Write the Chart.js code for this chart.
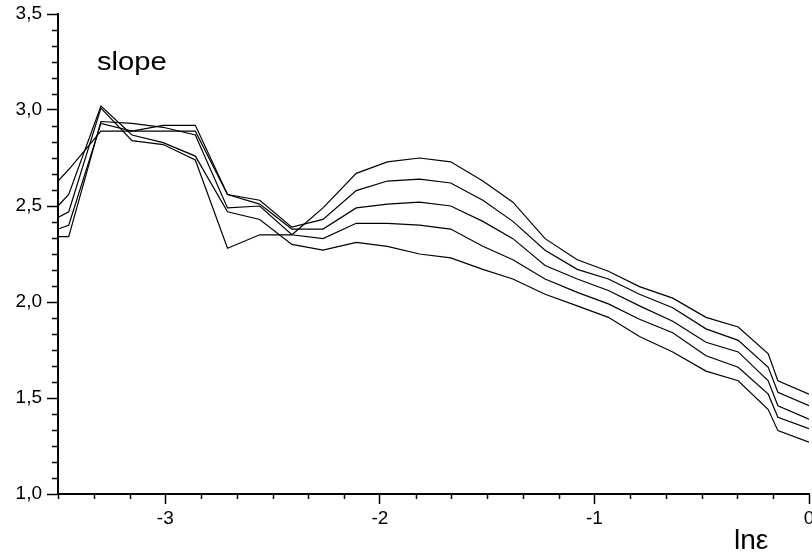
<!DOCTYPE html>
<html lang="en">
<head>
    <meta charset="utf-8">
    <title>slope vs ln eps</title>
    <script src="https://cdn.jsdelivr.net/npm/chart.js"></script>
    <style>
        body {
            margin: 0;
            background: #fff;
        }
    </style>
</head>
<body>
<canvas id="chart" width="812" height="557"></canvas>

<script>
    // x positions (ln eps) shared by all curves
    const lnEps = [-3.5, -3.45, -3.30, -3.155, -3.01, -2.86, -2.71, -2.56, -2.41, -2.265, -2.11, -1.965, -1.815,
        -1.67, -1.52, -1.38, -1.23, -1.08, -0.935, -0.79, -0.635, -0.48, -0.33, -0.19, -0.145, 0];

    // five slope curves
    const slope1 = [2.44, 2.47, 3.01, 2.84, 2.82, 2.74, 2.28, 2.35, 2.35, 2.49, 2.67, 2.73, 2.75,
        2.73, 2.63, 2.52, 2.33, 2.22, 2.16, 2.08, 2.02, 1.92, 1.87, 1.73, 1.59, 1.52];
    const slope2 = [2.38, 2.40, 2.93, 2.89, 2.92, 2.92, 2.56, 2.53, 2.39, 2.43, 2.58, 2.63, 2.64,
        2.62, 2.53, 2.42, 2.27, 2.17, 2.12, 2.04, 1.97, 1.86, 1.80, 1.66, 1.53, 1.46];
    const slope3 = [2.63, 2.69, 2.89, 2.89, 2.89, 2.89, 2.56, 2.51, 2.38, 2.38, 2.49, 2.51, 2.52,
        2.50, 2.42, 2.33, 2.19, 2.12, 2.06, 1.98, 1.90, 1.79, 1.74, 1.59, 1.46, 1.39];
    const slope4 = [2.34, 2.34, 2.94, 2.93, 2.91, 2.87, 2.49, 2.50, 2.35, 2.33, 2.41, 2.41, 2.40,
        2.38, 2.29, 2.22, 2.12, 2.05, 1.99, 1.91, 1.84, 1.72, 1.66, 1.52, 1.40, 1.34];
    const slope5 = [2.50, 2.56, 3.02, 2.87, 2.83, 2.76, 2.47, 2.43, 2.30, 2.27, 2.31, 2.29, 2.25,
        2.23, 2.17, 2.12, 2.04, 1.98, 1.92, 1.82, 1.74, 1.64, 1.59, 1.44, 1.33, 1.27];

    const xMajor = [-3, -2, -1, 0];
    const yMajor = [1.0, 1.5, 2.0, 2.5, 3.0, 3.5];

    const FONT = 'Arial, "Liberation Sans", sans-serif';

    function toPoints(ys) {
        return lnEps.map((x, i) => ({x: x, y: ys[i]}));
    }

    const curves = [slope1, slope2, slope3, slope4, slope5].map(ys => ({
        data: toPoints(ys),
        showLine: true,
        borderColor: '#000',
        borderWidth: 1.2,
        pointRadius: 0,
        tension: 0,
        fill: false
    }));

    // minor ticks and free text labels
    const extras = {
        id: 'extras',
        afterDraw(chart) {
            const ctx = chart.ctx;
            const xs = chart.scales.x;
            const ys = chart.scales.y;
            const area = chart.chartArea;
            ctx.save();
            ctx.strokeStyle = '#000';
            ctx.lineWidth = 1.5;
            ctx.beginPath();
            for (let k = 0; k <= 21; k++) {
                const v = -3.5 + k / 6;
                if (xMajor.some(m => Math.abs(m - v) < 1e-6)) continue;
                const px = Math.round(xs.getPixelForValue(v)) + 0.5;
                ctx.moveTo(px, area.bottom);
                ctx.lineTo(px, area.bottom + 5);
            }
            for (let k = 0; k <= 30; k++) {
                const v = 1 + k / 12;
                if (yMajor.some(m => Math.abs(m - v) < 1e-6)) continue;
                const py = Math.round(ys.getPixelForValue(v)) + 0.5;
                ctx.moveTo(area.left, py);
                ctx.lineTo(area.left - 6, py);
            }
            ctx.stroke();

            ctx.fillStyle = '#000';
            ctx.textBaseline = 'alphabetic';
            ctx.textAlign = 'left';
            // "slope" sits inside the plot, upper left
            ctx.save();
            ctx.translate(97, 70);
            ctx.scale(1.12, 1);
            ctx.font = '26px ' + FONT;
            ctx.fillText('slope', 0, 0);
            ctx.restore();
            // x axis name, bottom right
            ctx.font = '28px ' + FONT;
            ctx.fillText('ln\u03b5', 734, 549);
            ctx.restore();
        }
    };

    new Chart(document.getElementById('chart'), {
        type: 'scatter',
        data: {datasets: curves},
        plugins: [extras],
        options: {
            responsive: false,
            animation: false,
            devicePixelRatio: 1,
            layout: {padding: {top: 14, right: 3, left: 0, bottom: 0}},
            plugins: {
                legend: {display: false},
                tooltip: {enabled: false}
            },
            scales: {
                x: {
                    type: 'linear',
                    min: -3.5,
                    max: 0,
                    afterBuildTicks: scale => {
                        scale.ticks = xMajor.map(v => ({value: v}));
                    },
                    afterFit: scale => {
                        scale.height = 63;
                        scale.paddingLeft = 0;
                        scale.paddingRight = 0;
                    },
                    border: {display: true, color: '#000', width: 2},
                    grid: {
                        drawOnChartArea: false,
                        drawTicks: true,
                        tickLength: 10,
                        tickWidth: 1.5,
                        tickColor: '#000'
                    },
                    ticks: {
                        color: '#000',
                        padding: 3,
                        maxRotation: 0,
                        font: {family: FONT, size: 19},
                        callback: v => String(v)
                    }
                },
                y: {
                    min: 1.0,
                    max: 3.5,
                    afterBuildTicks: scale => {
                        scale.ticks = yMajor.map(v => ({value: v}));
                    },
                    afterFit: scale => {
                        scale.width = 58;
                        scale.paddingTop = 0;
                        scale.paddingBottom = 0;
                    },
                    border: {display: true, color: '#000', width: 2},
                    grid: {
                        drawOnChartArea: false,
                        drawTicks: true,
                        tickLength: 11,
                        tickWidth: 1.5,
                        tickColor: '#000'
                    },
                    ticks: {
                        color: '#000',
                        padding: 5,
                        font: {family: FONT, size: 19},
                        callback: v => v.toFixed(1).replace('.', ',')
                    }
                }
            }
        }
    });
</script>
</body>
</html>
